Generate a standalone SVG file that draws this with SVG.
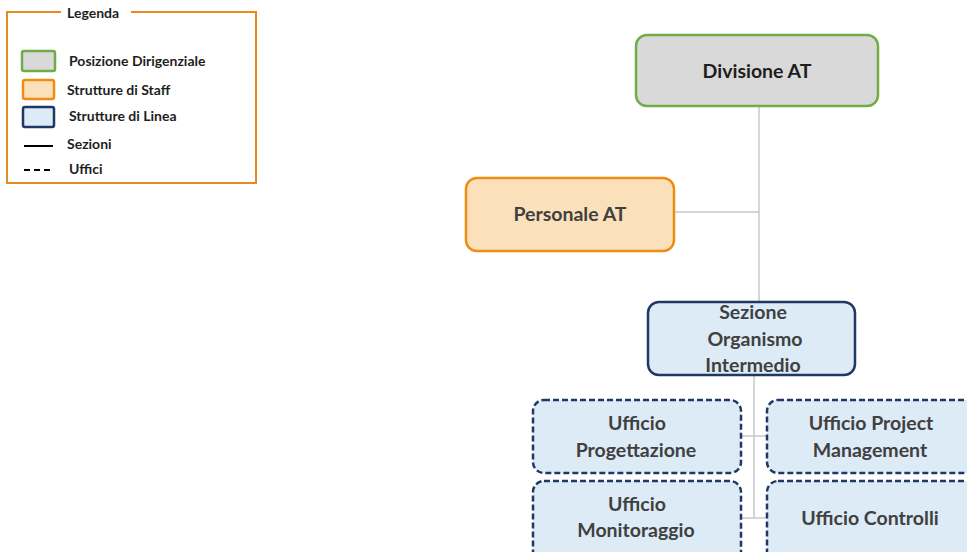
<svg xmlns="http://www.w3.org/2000/svg" width="967" height="552" viewBox="0 0 967 552">
  <style>
    text { font-family: Lato, "Open Sans", "Liberation Sans", sans-serif; font-weight: bold; }
    .lbl { font-size: 19.5px; fill: #404040; text-anchor: middle; }
    .top { fill: #1e1e1e; }
    .leg { font-size: 14px; fill: #1e1e1e; }
    .dir { fill: #D9D9D9; stroke: #70AD47; stroke-width: 2.5; }
    .staff { fill: #FBE0BC; stroke: #EF8C12; stroke-width: 2.5; }
    .linea { fill: #DDEBF7; stroke: #1F3864; stroke-width: 2.5; }
    .uff { fill: #DDEBF7; stroke: #1F3864; stroke-width: 2.5; stroke-dasharray: 6 3; }
    .conn { stroke: #C8C8C8; stroke-width: 1.5; fill: none; }
  </style>

  <!-- legend -->
  <g id="legend">
    <rect x="7" y="12" width="249" height="171" fill="#fff" stroke="#E98B1C" stroke-width="2"/>
    <rect x="61" y="5" width="70" height="14" fill="#fff"/>
    <text class="leg" x="67" y="18">Legenda</text>
    <rect class="dir" x="22" y="51" width="33" height="20" rx="2"/>
    <text class="leg" x="69" y="66">Posizione Dirigenziale</text>
    <rect class="staff" x="23" y="80" width="31" height="19" rx="2"/>
    <text class="leg" x="67" y="95">Strutture di Staff</text>
    <rect class="linea" x="23" y="107" width="31" height="20" rx="2"/>
    <text class="leg" x="69" y="121">Strutture di Linea</text>
    <line x1="24" y1="146" x2="53" y2="146" stroke="#000" stroke-width="2"/>
    <text class="leg" x="67" y="149">Sezioni</text>
    <line x1="24" y1="170" x2="53" y2="170" stroke="#000" stroke-width="2" stroke-dasharray="6 4"/>
    <text class="leg" x="69" y="174">Uffici</text>
  </g>

  <!-- connectors -->
  <g id="connectors">
    <line class="conn" x1="759" y1="106" x2="759" y2="302"/>
    <line class="conn" x1="674" y1="212" x2="759" y2="212"/>
    <line class="conn" x1="754" y1="375" x2="754" y2="518"/>
    <line class="conn" x1="741" y1="436" x2="767" y2="436"/>
    <line class="conn" x1="741" y1="518" x2="767" y2="518"/>
  </g>

  <g id="divisione-at">
    <rect class="dir" x="636" y="35" width="242" height="71" rx="11"/>
    <text class="lbl top" x="757" y="78">Divisione AT</text>
  </g>

  <g id="personale-at">
    <rect class="staff" x="466" y="178" width="208" height="73" rx="11"/>
    <text class="lbl" x="570" y="221">Personale AT</text>
  </g>

  <g id="sezione-oi">
    <rect class="linea" x="648" y="302" width="207" height="73" rx="11"/>
    <text class="lbl" x="753" y="319">Sezione</text>
    <text class="lbl" x="755" y="346">Organismo</text>
    <text class="lbl" x="753" y="372">Intermedio</text>
  </g>

  <g id="ufficio-progettazione">
    <rect class="uff" x="533" y="400" width="208" height="73" rx="11"/>
    <text class="lbl" x="637" y="430">Ufficio</text>
    <text class="lbl" x="636" y="457">Progettazione</text>
  </g>

  <g id="ufficio-project-management">
    <rect class="uff" x="767" y="400" width="212" height="73" rx="11"/>
    <text class="lbl" x="871" y="430">Ufficio Project</text>
    <text class="lbl" x="870" y="457">Management</text>
  </g>

  <g id="ufficio-monitoraggio">
    <rect class="uff" x="533" y="481" width="208" height="85" rx="11"/>
    <text class="lbl" x="637" y="511">Ufficio</text>
    <text class="lbl" x="636" y="537">Monitoraggio</text>
  </g>

  <g id="ufficio-controlli">
    <rect class="uff" x="767" y="481" width="212" height="85" rx="11"/>
    <text class="lbl" x="870" y="525">Ufficio Controlli</text>
  </g>
</svg>
